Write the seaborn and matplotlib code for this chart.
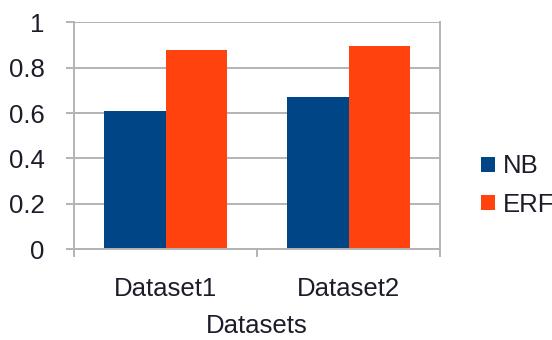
import matplotlib
matplotlib.use("Agg")
import matplotlib.pyplot as plt
import seaborn as sns
import pandas as pd

# Data
datasets = ["Dataset1", "Dataset2"]
nb_scores = [0.611, 0.670]
erf_scores = [0.879, 0.897]
series_names = ["NB", "ERF"]
y_ticks = [0, 0.2, 0.4, 0.6, 0.8, 1]
y_tick_labels = ["0", "0.2", "0.4", "0.6", "0.8", "1"]

df = pd.DataFrame({
    "Datasets": datasets * 2,
    "Score": nb_scores + erf_scores,
    "Model": [series_names[0]] * len(datasets) + [series_names[1]] * len(datasets),
})

sns.set_style("white")
plt.rcParams["font.family"] = ["Liberation Sans", "DejaVu Sans"]
text_color = "#1c1c2a"
grid_color = "#b3b3b3"
fs = 18.5

fig = plt.figure(figsize=(5.52, 3.40), dpi=100)
ax = fig.add_axes([0.134, 0.2668, 0.664, 0.6676])

palette = {"NB": "#004586", "ERF": "#ff420e"}
sns.barplot(data=df, x="Datasets", y="Score", hue="Model", palette=palette,
            width=0.67, gap=0, saturation=1, ax=ax, linewidth=0, legend=True)

ax.set_ylim(0, 1)
ax.set_xlim(-0.5, 1.5)
ax.set_yticks(y_ticks)
ax.set_yticklabels(y_tick_labels)

# horizontal grid
ax.set_axisbelow(True)
ax.yaxis.grid(True, color=grid_color, linewidth=1.4)
ax.xaxis.grid(False)

# category boundary ticks on the x axis
ax.set_xticks([-0.5, 0.5, 1.5], minor=True)
ax.tick_params(axis="x", which="minor", length=6, width=1.4, color=grid_color, bottom=True)
ax.tick_params(axis="x", which="major", length=0, pad=20, labelsize=fs, labelcolor=text_color)
ax.tick_params(axis="y", which="major", length=6, width=1.4, color=grid_color, left=True,
               pad=15, labelsize=fs, labelcolor=text_color)

for side in ["left", "right", "bottom"]:
    ax.spines[side].set_visible(True)
    ax.spines[side].set_color(grid_color)
    ax.spines[side].set_linewidth(1.4)
ax.spines["top"].set_visible(False)
ax.spines["right"].set_bounds(0, 1)

ax.set_ylabel("")
ax.set_xlabel("Datasets", fontsize=fs, color=text_color, labelpad=9)

handles, labels = ax.get_legend_handles_labels()
ax.legend_.remove()
fig.legend(handles, labels, loc="center left", bbox_to_anchor=(0.872, 0.4544),
           frameon=False, fontsize=fs, handlelength=0.55, handleheight=0.55,
           handletextpad=0.3, labelspacing=0.55, borderpad=0, borderaxespad=0,
           labelcolor=text_color)

fig.savefig("out.png", dpi=100)
